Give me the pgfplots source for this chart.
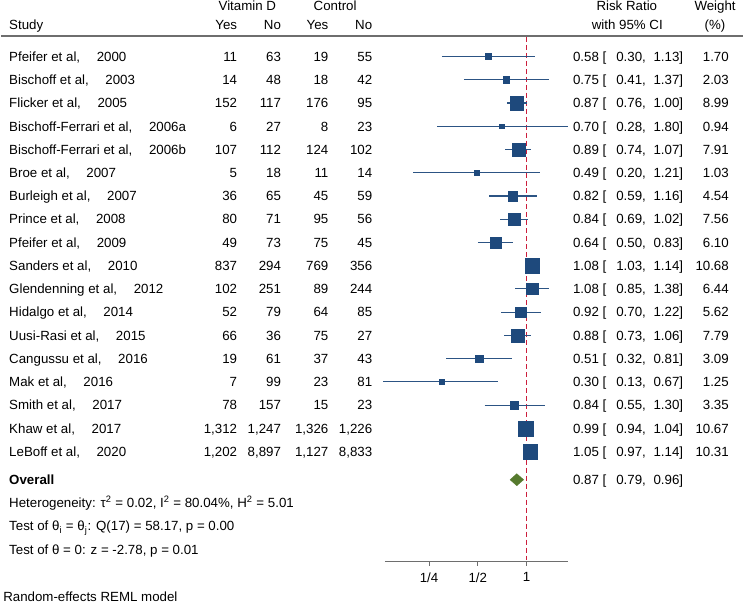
\documentclass[border=0pt]{standalone}
\usepackage{fontspec}
\setmainfont{Liberation Sans}
\usepackage{pgfplots}
\usepackage{pgfplotstable}
\pgfplotsset{compat=1.18}
\definecolor{fpnavy}{RGB}{30,73,124}
\definecolor{fpci}{RGB}{44,84,132}
\definecolor{fpgreen}{RGB}{86,122,46}
\definecolor{fpred}{RGB}{204,30,60}
\definecolor{fpgray}{RGB}{110,110,110}
\pgfplotstableread{
row rr lo hi w
1 0.58 0.30 1.13 1.70
2 0.75 0.41 1.37 2.03
3 0.87 0.76 1.00 8.99
4 0.70 0.28 1.80 0.94
5 0.89 0.74 1.07 7.91
6 0.49 0.20 1.21 1.03
7 0.82 0.59 1.16 4.54
8 0.84 0.69 1.02 7.56
9 0.64 0.50 0.83 6.10
10 1.08 1.03 1.14 10.68
11 1.08 0.85 1.38 6.44
12 0.92 0.70 1.22 5.62
13 0.88 0.73 1.06 7.79
14 0.51 0.32 0.81 3.09
15 0.30 0.13 0.67 1.25
16 0.84 0.55 1.30 3.35
17 0.99 0.94 1.04 10.67
18 1.05 0.97 1.14 10.31
}\studies
% row text: #1 row, #2 name, #3 year, #4-#7 counts, #8 rr, #9 lo/hi/weight packed
\newcommand{\rowtext}[9]{%
  \node[anchor=base west] at (8,{56.7+23.3*(#1-1)+4.8}) {#2,\hspace{12.5pt}#3};
  \node[anchor=base east] at (237,{56.7+23.3*(#1-1)+4.8}) {#4};
  \node[anchor=base east] at (281,{56.7+23.3*(#1-1)+4.8}) {#5};
  \node[anchor=base east] at (328.5,{56.7+23.3*(#1-1)+4.8}) {#6};
  \node[anchor=base east] at (372.5,{56.7+23.3*(#1-1)+4.8}) {#7};
  \rrtext{#1}{#8}#9}
\newcommand{\rrtext}[5]{%
  \node[anchor=base west] at (573.3,{56.7+23.3*(#1-1)+4.8}) {#2 [};
  \node[anchor=base west] at (616.7,{56.7+23.3*(#1-1)+4.8}) {#3,};
  \node[anchor=base west] at (654,{56.7+23.3*(#1-1)+4.8}) {#4]};
  \node[anchor=base east] at (730,{56.7+23.3*(#1-1)+4.8}) {#5};}
\begin{document}
\begin{tikzpicture}[every node/.style={inner sep=0pt, font=\fontsize{10}{12}\selectfont}]
\begin{axis}[
  at={(288.75pt,-27.75pt)}, anchor=north west,
  scale only axis, width=138pt, height=394.725pt,
  xmode=log, log basis x=2,
  xmin=0.1336, xmax=1.814,
  ymin=-22.742, ymax=-0.1545,
  axis x line*=bottom, axis y line=none,
  axis line style={fpgray, line width=0.8pt},
  xtick={0.25,0.5,1}, xticklabels={1/4,1/2,1},
  ytick=\empty, minor xtick={},
  tick align=outside, major tick length=3pt,
  tick style={fpgray, line width=0.8pt},
  xticklabel style={font=\fontsize{10}{12}\selectfont, inner sep=0pt, yshift=-5pt},
  clip=false,
]
\addplot[fpred, dash pattern=on 3.75pt off 2.25pt, line width=0.8pt] coordinates {(1,-0.1545) (1,-22.742)};
\addplot[fpci, line width=0.8pt, unbounded coords=jump] coordinates {
 (0.30,-1) (1.13,-1) (nan,nan)
 (0.41,-2) (1.37,-2) (nan,nan)
 (0.76,-3) (1.00,-3) (nan,nan)
 (0.28,-4) (1.80,-4) (nan,nan)
 (0.74,-5) (1.07,-5) (nan,nan)
 (0.20,-6) (1.21,-6) (nan,nan)
 (0.59,-7) (1.16,-7) (nan,nan)
 (0.69,-8) (1.02,-8) (nan,nan)
 (0.50,-9) (0.83,-9) (nan,nan)
 (1.03,-10) (1.14,-10) (nan,nan)
 (0.85,-11) (1.38,-11) (nan,nan)
 (0.70,-12) (1.22,-12) (nan,nan)
 (0.73,-13) (1.06,-13) (nan,nan)
 (0.32,-14) (0.81,-14) (nan,nan)
 (0.13,-15) (0.67,-15) (nan,nan)
 (0.55,-16) (1.30,-16) (nan,nan)
 (0.94,-17) (1.04,-17) (nan,nan)
 (0.97,-18) (1.14,-18)
};
\addplot[scatter, only marks, mark=square*, scatter src=explicit,
  scatter/use mapped color={draw=fpnavy, fill=fpnavy},
  mark options={line width=0.2pt},
  visualization depends on={\thisrow{w} \as \wt},
  scatter/@pre marker code/.append style={/tikz/mark size={1.6875*sqrt(\wt)}}]
  table[x=rr, y expr=-\thisrow{row}, meta=w] {\studies};
\addplot[fill=fpgreen, draw=fpgreen, line width=0.2pt] coordinates {(0.79,-19.21) (0.87,-18.95) (0.96,-19.21) (0.87,-19.47)} -- cycle;
\end{axis}
\begin{scope}[x=0.75pt, y=-0.75pt]
\path (0,0) rectangle (744,606);
\draw[fpgray, line width=1.5pt] (0,36.5) -- (744,36.5);
% header
\node[anchor=base] at (247,11) {Vitamin D};
\node[anchor=base] at (335,11) {Control};
\node[anchor=base west] at (8,29.5) {Study};
\node[anchor=base east] at (237,29.5) {Yes};
\node[anchor=base east] at (281,29.5) {No};
\node[anchor=base east] at (328.5,29.5) {Yes};
\node[anchor=base east] at (372.5,29.5) {No};
\node[anchor=base] at (627.5,11) {Risk Ratio};
\node[anchor=base] at (628,29.5) {with 95\% CI};
\node[anchor=base] at (716,11) {Weight};
\node[anchor=base] at (716,29.5) {(\%)};
% rows
\rowtext{1}{Pfeifer et al}{2000}{11}{63}{19}{55}{0.58}{{0.30}{1.13}{1.70}}
\rowtext{2}{Bischoff et al}{2003}{14}{48}{18}{42}{0.75}{{0.41}{1.37}{2.03}}
\rowtext{3}{Flicker et al}{2005}{152}{117}{176}{95}{0.87}{{0.76}{1.00}{8.99}}
\rowtext{4}{Bischoff-Ferrari et al}{2006a}{6}{27}{8}{23}{0.70}{{0.28}{1.80}{0.94}}
\rowtext{5}{Bischoff-Ferrari et al}{2006b}{107}{112}{124}{102}{0.89}{{0.74}{1.07}{7.91}}
\rowtext{6}{Broe et al}{2007}{5}{18}{11}{14}{0.49}{{0.20}{1.21}{1.03}}
\rowtext{7}{Burleigh et al}{2007}{36}{65}{45}{59}{0.82}{{0.59}{1.16}{4.54}}
\rowtext{8}{Prince et al}{2008}{80}{71}{95}{56}{0.84}{{0.69}{1.02}{7.56}}
\rowtext{9}{Pfeifer et al}{2009}{49}{73}{75}{45}{0.64}{{0.50}{0.83}{6.10}}
\rowtext{10}{Sanders et al}{2010}{837}{294}{769}{356}{1.08}{{1.03}{1.14}{10.68}}
\rowtext{11}{Glendenning et al}{2012}{102}{251}{89}{244}{1.08}{{0.85}{1.38}{6.44}}
\rowtext{12}{Hidalgo et al}{2014}{52}{79}{64}{85}{0.92}{{0.70}{1.22}{5.62}}
\rowtext{13}{Uusi-Rasi et al}{2015}{66}{36}{75}{27}{0.88}{{0.73}{1.06}{7.79}}
\rowtext{14}{Cangussu et al}{2016}{19}{61}{37}{43}{0.51}{{0.32}{0.81}{3.09}}
\rowtext{15}{Mak et al}{2016}{7}{99}{23}{81}{0.30}{{0.13}{0.67}{1.25}}
\rowtext{16}{Smith et al}{2017}{78}{157}{15}{23}{0.84}{{0.55}{1.30}{3.35}}
\rowtext{17}{Khaw et al}{2017}{1,312}{1,247}{1,326}{1,226}{0.99}{{0.94}{1.04}{10.67}}
\rowtext{18}{LeBoff et al}{2020}{1,202}{8,897}{1,127}{8,833}{1.05}{{0.97}{1.14}{10.31}}
% overall
\node[anchor=base west] at (8,485.8) {\textbf{Overall}};
\node[anchor=base west] at (573.3,485.8) {0.87 [};
\node[anchor=base west] at (616.7,485.8) {0.79,};
\node[anchor=base west] at (654,485.8) {0.96]};
\node[anchor=base west] at (8,509.1) {Heterogeneity: τ\textsuperscript{2} = 0.02, I\textsuperscript{2} = 80.04\%, H\textsuperscript{2} = 5.01};
\node[anchor=base west] at (8,532.4) {Test of θ\textsubscript{i} = θ\textsubscript{j}: Q(17) = 58.17, p = 0.00};
\node[anchor=base west] at (8,555.7) {Test of θ = 0: z = -2.78, p = 0.01};
\node[anchor=base west] at (2,603.3) {Random-effects REML model};
\end{scope}
\end{tikzpicture}
\end{document}
